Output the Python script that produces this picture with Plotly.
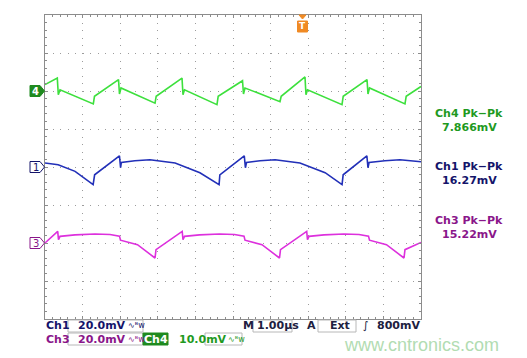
import plotly.graph_objects as go

# ---------------- data (time in µs, voltage in mV relative to channel ground) ----------------
time_ch1 = [0.00, 0.35, 0.80, 1.28, 1.32, 1.98, 2.01, 2.03, 2.39, 2.79, 3.46, 4.12, 4.63, 4.65,
            5.30, 5.33, 5.36, 5.72, 6.12, 6.78, 7.45, 7.90, 7.93, 8.56, 8.59, 8.62, 9.04, 9.44, 10.0]
mv_ch1 = [2.1, 1.2, -2.3, -9.3, -4.1, 5.9, -0.4, 2.4, 3.3, 3.8, 2.1, -3.0, -9.3, -4.1,
          5.9, -0.4, 2.4, 3.3, 3.8, 2.1, -3.0, -9.3, -4.1, 5.9, -0.4, 2.4, 3.3, 3.8, 2.8]

time_ch3 = [0.000, 0.338, 0.359, 0.399, 0.798, 1.330, 1.729, 1.981, 2.008, 2.460, 2.926, 2.952,
            3.649, 3.670, 3.710, 4.109, 4.641, 5.040, 5.293, 5.319, 5.771, 6.237, 6.263,
            6.960, 6.981, 7.021, 7.420, 7.952, 8.351, 8.604, 8.630, 9.082, 9.548, 9.574, 10.0]
mv_ch3 = [0.0, 6.1, 1.7, 3.5, 4.3, 4.7, 4.5, 3.6, 1.5, -0.9, -7.9, -3.5,
          6.1, 1.7, 3.5, 4.3, 4.7, 4.5, 3.6, 1.5, -0.9, -7.9, -3.5,
          6.1, 1.7, 3.5, 4.3, 4.7, 4.5, 3.6, 1.5, -0.9, -7.9, -3.5, 0.3]

time_ch4 = [0.000, 0.327, 0.354, 0.399, 1.285, 1.316, 1.955, 1.981, 2.021, 2.926, 2.957,
            3.644, 3.670, 3.710, 4.574, 4.606, 5.253, 5.279, 5.319, 6.250, 6.282,
            6.915, 6.941, 6.981, 7.899, 7.931, 8.564, 8.590, 8.630, 9.574, 9.606, 10.0]
mv_ch4 = [1.7, 3.4, -1.0, 0.3, -3.4, -1.4, 3.0, -0.8, 0.8, -3.2, -1.4,
          3.4, -1.0, 0.3, -3.6, -1.4, 2.7, -0.8, 0.8, -2.8, -1.4,
          3.7, -1.0, 0.3, -3.6, -1.4, 3.0, -0.8, 0.8, -3.4, -1.4, 1.2]

channels = ["Ch4", "Ch1", "Ch3"]
scales_mv_per_div = [10.0, 20.0, 20.0]
offsets_div = [2.0, 0.0, -2.0]
pkpk_labels = ["7.866mV", "16.27mV", "15.22mV"]
scale_labels = ["10.0mV", "20.0mV", "20.0mV"]
timebase_label = "1.00µs"
trigger_level_label = "800mV"

# ---------------- styling ----------------
TRACE_COLORS = {"Ch4": "#3de03d", "Ch1": "#2230b8", "Ch3": "#dd30dd"}
TEXT_COLORS = {"Ch4": "#1f9a1f", "Ch1": "#14146a", "Ch3": "#8a168a"}
FONT = "DejaVu Sans"

W, H = 527, 358
L, R, T, B = 45, 421, 15, 319


def px(x):
    return (x - L) / (R - L)


def py(y):
    return (B - y) / (B - T)


series = {"Ch4": (time_ch4, mv_ch4), "Ch1": (time_ch1, mv_ch1), "Ch3": (time_ch3, mv_ch3)}

fig = go.Figure()
for ch, scale, off in zip(channels, scales_mv_per_div, offsets_div):
    t, v = series[ch]
    fig.add_trace(go.Scatter(
        x=t, y=[off + vv / scale for vv in v], mode="lines",
        line=dict(color=TRACE_COLORS[ch], width=1.6), hoverinfo="skip", showlegend=False))

annotations = []
shapes = []


def text(x, y, s, color, size=12, anchor="left", font=FONT, weight="normal", **kw):
    annotations.append(dict(x=px(x), y=py(y), xref="paper", yref="paper", text=s, showarrow=False,
                            xanchor=anchor, yanchor="middle", borderpad=0,
                            font=dict(family=font, size=size, color=color, weight=weight), **kw))


def path(points, fill, line):
    d = "M " + " L ".join(f"{px(a)},{py(b)}" for a, b in points) + " Z"
    shapes.append(dict(type="path", xref="paper", yref="paper", path=d,
                       fillcolor=fill, line=dict(color=line, width=1)))


def rect(x0, y0, x1, y1, color="#b8b8b8", fill=None):
    d = dict(type="rect", xref="paper", yref="paper", x0=px(x0), x1=px(x1),
             y0=py(y1), y1=py(y0), line=dict(color=color, width=1))
    if fill:
        d["fillcolor"] = fill
    shapes.append(d)


# Pk-Pk readouts on the right
for ch, lab, ytop in zip(channels, pkpk_labels, [113.5, 166.5, 220.5]):
    text(469, ytop, f"{ch} Pk−Pk", TEXT_COLORS[ch], size=11, anchor="center", weight=600)
    text(469, ytop + 13.5, lab, TEXT_COLORS[ch], size=11, anchor="center", weight="bold")

# channel ground markers
for ch, off in zip(channels, offsets_div):
    yc = B - (off + 4) * (B - T) / 8
    pts = [(30, yc - 5.5), (40, yc - 5.5), (44.5, yc), (40, yc + 5.5), (30, yc + 5.5)]
    num = ch[-1]
    if ch == "Ch4":
        path(pts, "#1f8a1f", "#1f8a1f")
        text(35.5, yc, num, "white", size=10, anchor="center", weight="bold")
    else:
        path(pts, "white", TEXT_COLORS[ch])
        text(35.5, yc, num, TEXT_COLORS[ch], size=10, anchor="center")

# trigger marker
path([(299, 15), (306, 15), (302.5, 19)], "#f08a24", "#f08a24")
rect(297.5, 21, 307.5, 32, color="#f08a24", fill="#f08a24")
text(302.5, 26.5, "T", "white", size=9, anchor="center", weight="bold")

# bottom readouts
row1, row2 = 325.5, 339.5
SYM = "∿ᴮw"
BS = 11
text(45, row1, "Ch1", TEXT_COLORS["Ch1"], size=BS, weight="bold")
rect(68, 320, 143, 332)
text(77, row1, scale_labels[1], TEXT_COLORS["Ch1"], size=BS, weight="bold")
text(127, row1, SYM, TEXT_COLORS["Ch1"], size=8)
text(45, row2, "Ch3", TEXT_COLORS["Ch3"], size=BS, weight="bold")
rect(68, 333, 143, 345)
text(77, row2, scale_labels[2], TEXT_COLORS["Ch3"], size=BS, weight="bold")
text(127, row2, SYM, TEXT_COLORS["Ch3"], size=8)
rect(143, 333, 168, 345, color="#1f8a1f", fill="#1f8a1f")
text(155.5, row2, "Ch4", "white", size=BS, anchor="center", weight="bold")
rect(205, 333, 242, 345)
text(178, row2, scale_labels[0], TEXT_COLORS["Ch4"], size=BS, weight="bold")
text(227, row2, SYM, TEXT_COLORS["Ch4"], size=8)

DARK = "#202040"
text(242, row1, "M", DARK, size=BS, weight="bold")
rect(253, 320, 292, 332)
text(256, row1, timebase_label, DARK, size=BS, weight="bold")
text(306, row1, "A", DARK, size=BS, weight="bold")
rect(318, 320, 356, 332)
text(329, row1, "Ext", DARK, size=BS, weight="bold")
text(362, row1, "∫", DARK, size=BS)
text(421, row1, trigger_level_label, DARK, size=BS, anchor="right", weight="bold")

# watermark
text(421, 345, "www.cntronics.com", "#b2dcb2", size=18, anchor="center", font="Liberation Sans")

axis_common = dict(showticklabels=False, showline=True, mirror="allticks", linecolor="#8c8c8c",
                   linewidth=1, ticks="inside", ticklen=3, tickcolor="#8c8c8c", zeroline=False,
                   showgrid=True, gridcolor="#9c9c9c", gridwidth=1, fixedrange=True)

fig.update_layout(
    width=W, height=H,
    margin=dict(l=L, r=W - R, t=T, b=H - B),
    paper_bgcolor="white", plot_bgcolor="white",
    xaxis=dict(range=[0, 10], dtick=1, tick0=0, griddash="1px,6.6px",
               minor=dict(dtick=0.2, ticks="inside", ticklen=2, tickcolor="#8c8c8c", showgrid=False),
               **axis_common),
    yaxis=dict(range=[-4, 4], dtick=1, tick0=0, griddash="1px,6.52px",
               minor=dict(dtick=0.2, ticks="inside", ticklen=2, tickcolor="#8c8c8c", showgrid=False),
               **axis_common),
    annotations=annotations, shapes=shapes,
)

fig.write_html("out.html", config={"displayModeBar": False},
               post_script="document.body.style.margin='0px';document.body.style.padding='0px';")
